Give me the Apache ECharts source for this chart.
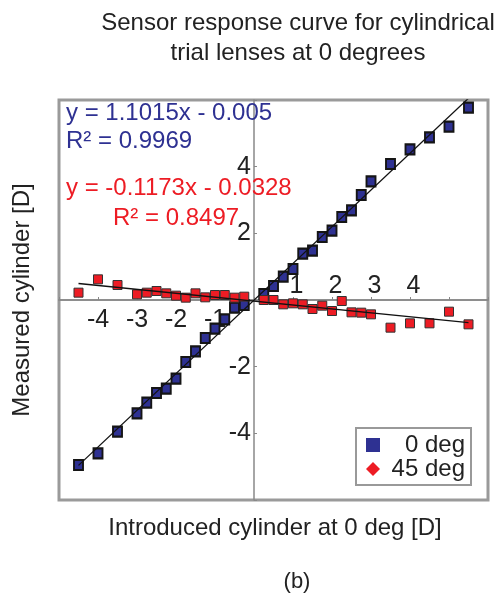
<!DOCTYPE html>
<html>
<head>
<meta charset="utf-8">
<script src="https://cdn.jsdelivr.net/npm/echarts@6/dist/echarts.min.js"></script>
<style>
  html, body { margin: 0; padding: 0; background: #fff; }
  #chart { width: 496px; height: 597px; }
</style>
</head>
<body>
<div id="chart"></div>
<script>
// lens powers (same set for both orientations)
const lensPower = [-4.5, -4, -3.5, -3, -2.75, -2.5, -2.25, -2, -1.75, -1.5, -1.25, -1, -0.75, -0.5, -0.25,
  0.25, 0.5, 0.75, 1, 1.25, 1.5, 1.75, 2, 2.25, 2.5, 2.75, 3, 3.5, 4, 4.5, 5, 5.5];
// measured cylinder, 0 deg
const measured0 = [-4.95, -4.6, -3.95, -3.4, -3.08, -2.79, -2.66, -2.36, -1.86, -1.54, -1.14, -0.86, -0.58, -0.23, -0.15,
  0.18, 0.42, 0.7, 0.93, 1.39, 1.48, 1.89, 2.08, 2.49, 2.69, 3.15, 3.56, 4.08, 4.52, 4.88, 5.2, 5.77];
// measured cylinder, 45 deg
const measured45 = [0.22, 0.62, 0.45, 0.17, 0.22, 0.27, 0.2, 0.13, 0.07, 0.2, 0.08, 0.15, 0.15, 0.07, 0.1,
  0.0, 0.0, -0.13, -0.1, -0.13, -0.27, -0.17, -0.33, -0.03, -0.37, -0.38, -0.43, -0.83, -0.7, -0.7, -0.35, -0.73];
// linear fits [slope, intercept]
const fit0 = [1.1015, -0.005];
const fit45 = [-0.1173, -0.0328];
const fitRange = [-4.5, 5.5];
const xTickLabels = [-4, -3, -2, -1, 1, 2, 3, 4];
const yTickLabels = [-4, -2, 2, 4];

const FONT = 'Liberation Sans';
const BLUE = '#2e3192';
const RED = '#ed1c24';

const pairs = (ys) => lensPower.map((x, i) => [x, ys[i]]);
const fitLine = (f) => fitRange.map(x => [x, f[0] * x + f[1]]);

const chart = echarts.init(document.getElementById('chart'), null, { renderer: 'canvas' });

// grid is 59..488 x 100..500, so zero sits 200px above the bottom and 195px right of the left edge
const xAxisBase = {
  type: 'value', min: -5, max: 6, interval: 1, position: 'bottom', offset: -200,
  axisLine: { onZero: false, lineStyle: { color: '#888', width: 1.5 } },
  axisTick: { show: true, length: 3, inside: true, lineStyle: { color: '#888' } },
  splitLine: { show: false }
};

chart.setOption({
  animation: false,
  grid: {
    left: 59, right: 8, top: 100, bottom: 97,
    show: true, borderColor: '#9a9a9a', borderWidth: 3,
    containLabel: false, outerBoundsMode: 'none'
  },
  xAxis: [
    Object.assign({}, xAxisBase, {
      axisLabel: {
        margin: 8, fontSize: 25, fontFamily: FONT, color: '#222',
        formatter: v => (v < 0 && xTickLabels.includes(v)) ? String(v) : ''
      }
    }),
    Object.assign({}, xAxisBase, {
      axisLabel: {
        inside: true, margin: 1, fontSize: 25, fontFamily: FONT, color: '#222',
        formatter: v => (v > 0 && xTickLabels.includes(v)) ? ' ' + v : ''
      }
    })
  ],
  yAxis: {
    type: 'value', min: -6, max: 6, interval: 2, position: 'left', offset: -195,
    axisLine: { onZero: false, lineStyle: { color: '#888', width: 1.5 } },
    axisTick: { show: true, length: 3, inside: true, lineStyle: { color: '#888' } },
    axisLabel: {
      margin: 3, fontSize: 25, fontFamily: FONT, color: '#222',
      formatter: v => yTickLabels.includes(v) ? String(v) : ''
    },
    splitLine: { show: false }
  },
  legend: {
    left: 356, top: 428,
    orient: 'vertical',
    padding: [5, 6, 4, 10],
    itemGap: 0, itemWidth: 14, itemHeight: 14,
    borderColor: '#999', borderWidth: 2,
    textStyle: {
      fontSize: 24, fontFamily: FONT, color: '#222', lineHeight: 18,
      rich: { a: { fontSize: 24, fontFamily: FONT, color: '#222', lineHeight: 18, width: 80, align: 'right' } }
    },
    formatter: '{a|{name}}',
    data: [
      { name: '0 deg', icon: 'rect', itemStyle: { color: BLUE, borderWidth: 0 } },
      { name: '45 deg', icon: 'diamond', itemStyle: { color: RED, borderWidth: 0 } }
    ]
  },
  series: [
    {
      name: '0 deg', type: 'scatter', data: pairs(measured0),
      symbol: 'rect', symbolSize: [9, 10],
      itemStyle: { color: BLUE, borderColor: '#151515', borderWidth: 2, opacity: 1 }, z: 3
    },
    {
      name: '45 deg', type: 'scatter', data: pairs(measured45),
      symbol: 'rect', symbolSize: 9,
      itemStyle: { color: RED, borderColor: '#333', borderWidth: 1, opacity: 1 }, z: 3
    },
    {
      name: 'fit 0', type: 'line', data: fitLine(fit0), showSymbol: false, symbol: 'none',
      lineStyle: { color: '#111', width: 1.3 }, z: 4, silent: true
    },
    {
      name: 'fit 45', type: 'line', data: fitLine(fit45), showSymbol: false, symbol: 'none',
      lineStyle: { color: '#111', width: 1.3 }, z: 4, silent: true
    }
  ],
  graphic: [
    {
      type: 'text', x: 298, y: 8, z: 10,
      style: {
        text: 'Sensor response curve for cylindrical\ntrial lenses at 0 degrees',
        align: 'center', fontSize: 24, lineHeight: 30, fontFamily: FONT, fill: '#222'
      }
    },
    {
      type: 'text', x: 22, y: 300, rotation: Math.PI / 2, z: 10,
      style: {
        text: 'Measured cylinder [D]', align: 'center', verticalAlign: 'middle',
        fontSize: 24, fontFamily: FONT, fill: '#222'
      }
    },
    {
      type: 'text', x: 275, y: 528, z: 10,
      style: {
        text: 'Introduced cylinder at 0 deg [D]', align: 'center', verticalAlign: 'middle',
        fontSize: 24, fontFamily: FONT, fill: '#222'
      }
    },
    {
      type: 'text', x: 297, y: 582, z: 10,
      style: { text: '(b)', align: 'center', verticalAlign: 'middle', fontSize: 22, fontFamily: FONT, fill: '#222' }
    },
    {
      type: 'text', x: 66, y: 113, z: 10,
      style: { text: 'y = 1.1015x - 0.005', verticalAlign: 'middle', fontSize: 24, fontFamily: FONT, fill: BLUE }
    },
    {
      type: 'text', x: 66, y: 141, z: 10,
      style: { text: 'R² = 0.9969', verticalAlign: 'middle', fontSize: 24, fontFamily: FONT, fill: BLUE }
    },
    {
      type: 'text', x: 66, y: 188, z: 10,
      style: { text: 'y = -0.1173x - 0.0328', verticalAlign: 'middle', fontSize: 24, fontFamily: FONT, fill: RED }
    },
    {
      type: 'text', x: 113, y: 218, z: 10,
      style: { text: 'R² = 0.8497', verticalAlign: 'middle', fontSize: 24, fontFamily: FONT, fill: RED }
    }
  ]
});
</script>
</body>
</html>
